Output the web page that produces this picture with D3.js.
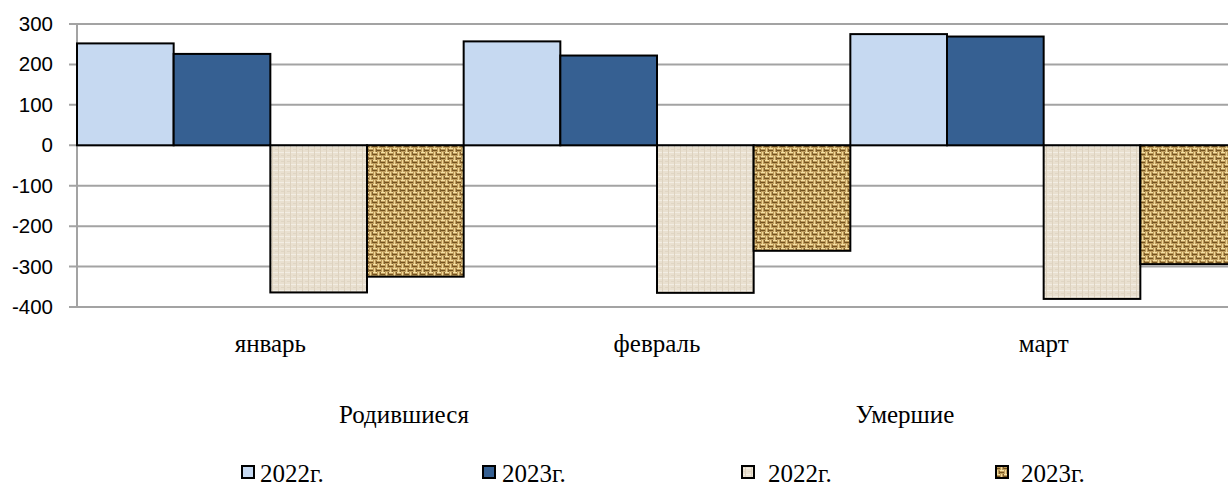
<!DOCTYPE html>
<html>
<head>
<meta charset="utf-8">
<script src="https://cdn.jsdelivr.net/npm/d3@7"></script>
<style>
    body { margin: 0; background: #fff; }
    #chart { width: 1228px; height: 489px; overflow: hidden; }
</style>
</head>
<body>
<div id="chart"></div>
<script>
// Chart data
const months = ["январь", "февраль", "март"];
const series = ["births2022", "births2023", "deaths2022", "deaths2023"];
const births2022 = [252, 257, 275];
const births2023 = [226, 222, 269];
const deaths2022 = [-364, -365, -380];
const deaths2023 = [-325, -261, -294];
const yTicks = [300, 200, 100, 0, -100, -200, -300, -400];
const groupLabels = ["Родившиеся", "Умершие"];
const legendLabels = ["2022г.", "2023г.", "2022г.", "2023г."];

const values = { births2022, births2023, deaths2022, deaths2023 };

let margin = { top: 24, right: 0, bottom: 182, left: 77 };
let width = 1160,
    height = 489 - margin.top - margin.bottom;

const svg = d3
    .select("#chart")
    .append("svg")
    .attr("width", 1228)
    .attr("height", 489);

// Textures for the deaths bars
const defs = svg.append("defs");

const linen = defs
    .append("pattern")
    .attr("id", "linen")
    .attr("patternUnits", "userSpaceOnUse")
    .attr("width", 6)
    .attr("height", 6);
linen.append("rect").attr("width", 6).attr("height", 6).attr("fill", "#e9e0d0");
linen.append("rect").attr("x", 0).attr("y", 2).attr("width", 6).attr("height", 1).attr("fill", "#f2ede3");
linen.append("rect").attr("x", 3).attr("y", 0).attr("width", 1).attr("height", 6).attr("fill", "#ddd2bf");
linen.append("rect").attr("x", 0).attr("y", 5).attr("width", 3).attr("height", 1).attr("fill", "#e0d6c4");

const weave = defs
    .append("pattern")
    .attr("id", "weave")
    .attr("patternUnits", "userSpaceOnUse")
    .attr("width", 8)
    .attr("height", 8);
weave.append("rect").attr("width", 8).attr("height", 8).attr("fill", "#bf9c5c");
weave.append("rect").attr("x", 0).attr("y", 0).attr("width", 4).attr("height", 1).attr("fill", "#f4e0a4");
weave.append("rect").attr("x", 4).attr("y", 4).attr("width", 4).attr("height", 1).attr("fill", "#f4e0a4");
weave.append("rect").attr("x", 5).attr("y", 0).attr("width", 1).attr("height", 4).attr("fill", "#efd797");
weave.append("rect").attr("x", 1).attr("y", 4).attr("width", 1).attr("height", 4).attr("fill", "#efd797");
weave.append("rect").attr("x", 0).attr("y", 2).attr("width", 4).attr("height", 1).attr("fill", "#73531f");
weave.append("rect").attr("x", 4).attr("y", 6).attr("width", 4).attr("height", 1).attr("fill", "#73531f");
weave.append("rect").attr("x", 7).attr("y", 0).attr("width", 1).attr("height", 3).attr("fill", "#80602d");
weave.append("rect").attr("x", 3).attr("y", 5).attr("width", 1).attr("height", 3).attr("fill", "#80602d");

const fills = {
    births2022: "#c6d9f1",
    births2023: "#366092",
    deaths2022: "url(#linen)",
    deaths2023: "url(#weave)",
};

const g = svg.append("g").attr("transform", "translate(" + margin.left + "," + margin.top + ")");

// Define x and y scales
let x0 = d3.scaleBand().domain(months).range([0, width]).padding(0);
let x1 = d3.scaleBand().domain(series).range([0, x0.bandwidth()]).padding(0);
let y = d3.scaleLinear().domain([-400, 300]).range([height, 0]);

// Gridlines
g.selectAll(".grid")
    .data(yTicks)
    .enter()
    .append("line")
    .attr("x1", -8)
    .attr("x2", width)
    .attr("y1", (d) => y(d))
    .attr("y2", (d) => y(d))
    .attr("stroke", "#a3a3a3")
    .attr("stroke-width", 2);

// Y axis
const yAxis = g.append("g").call(
    d3.axisLeft(y).tickValues(yTicks).tickSize(0).tickPadding(24).tickFormat((d) => String(d))
);
yAxis.select(".domain").remove();
yAxis.selectAll("text")
    .attr("font-family", "Liberation Sans, Arial, sans-serif")
    .attr("font-size", 20.5)
    .attr("fill", "#000");

g.append("line")
    .attr("x1", 0)
    .attr("x2", 0)
    .attr("y1", 0)
    .attr("y2", height)
    .attr("stroke", "#a3a3a3")
    .attr("stroke-width", 2);

// Bars
const bars = [];
months.forEach((m, i) => series.forEach((s) => bars.push({ month: m, key: s, value: values[s][i] })));

g.selectAll(".bar")
    .data(bars)
    .enter()
    .append("rect")
    .attr("class", "bar")
    .attr("x", (d) => x0(d.month) + x1(d.key))
    .attr("width", x1.bandwidth())
    .attr("y", (d) => y(Math.max(0, d.value)))
    .attr("height", (d) => Math.abs(y(d.value) - y(0)))
    .attr("fill", (d) => fills[d.key])
    .attr("stroke", "#000")
    .attr("stroke-width", 2);

// Month labels
const serif = "Liberation Serif, Times New Roman, serif";
g.selectAll(".month")
    .data(months)
    .enter()
    .append("text")
    .attr("x", (d) => x0(d) + x0.bandwidth() / 2)
    .attr("y", 328)
    .attr("text-anchor", "middle")
    .attr("font-family", serif)
    .attr("font-size", 25)
    .text((d) => d);

// Group captions
const groupX = [404, 905];
svg.selectAll(".group")
    .data(groupLabels)
    .enter()
    .append("text")
    .attr("x", (d, i) => groupX[i])
    .attr("y", 423)
    .attr("text-anchor", "middle")
    .attr("font-family", serif)
    .attr("font-size", 25)
    .text((d) => d);

// Legend
const legendX = [242, 483, 742, 996];
const legendGap = [18, 19, 26, 25];
const legend = svg
    .selectAll(".legend")
    .data(series)
    .enter()
    .append("g")
    .attr("transform", (d, i) => "translate(" + legendX[i] + ",466)");

legend.append("rect")
    .attr("width", 12)
    .attr("height", 12)
    .attr("fill", (d) => fills[d])
    .attr("stroke", "#000")
    .attr("stroke-width", 2);

legend.append("text")
    .attr("x", (d, i) => legendGap[i])
    .attr("y", 16)
    .attr("font-family", serif)
    .attr("font-size", 25)
    .text((d, i) => legendLabels[i]);
</script>
</body>
</html>
